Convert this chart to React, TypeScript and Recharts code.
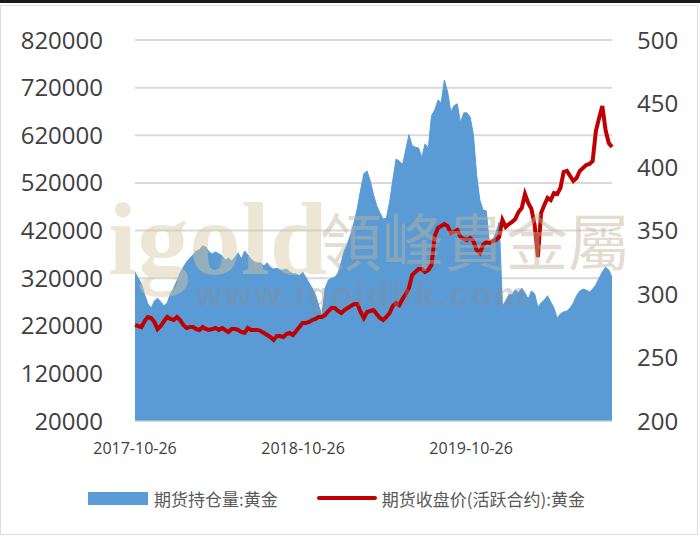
import React from 'react';
import { ComposedChart, Area, Line, XAxis, YAxis, CartesianGrid, Legend } from 'recharts';

// weekly samples from 2017-10-26 to 2020-08-27
const startDate = Date.UTC(2017, 9, 26);
const WEEK_MS = 7 * 24 * 3600 * 1000;

// 期货持仓量:黄金
const openInterest = [
  333000, 320000, 308000, 285000, 266000, 257000, 272000, 278000, 270000, 262000,
  268000, 287000, 299000, 314000, 331000, 343000, 354000, 362000, 369000, 377000,
  379000, 388000, 385000, 375000, 371000, 375000, 371000, 367000, 358000, 362000,
  356000, 364000, 373000, 360000, 377000, 369000, 360000, 354000, 352000, 352000,
  346000, 352000, 343000, 339000, 341000, 337000, 337000, 339000, 333000, 329000,
  329000, 325000, 333000, 322000, 310000, 299000, 285000, 262000, 240000, 299000,
  316000, 320000, 322000, 331000, 354000, 379000, 394000, 413000, 438000, 467000,
  505000, 539000, 545000, 524000, 495000, 472000, 457000, 444000, 446000, 480000,
  526000, 570000, 566000, 558000, 589000, 621000, 598000, 595000, 593000, 574000,
  602000, 593000, 661000, 673000, 694000, 688000, 736000, 711000, 669000, 682000,
  686000, 646000, 667000, 667000, 658000, 621000, 537000, 484000, 463000, 461000,
  390000, 400000, 415000, 438000, 262000, 272000, 285000, 285000, 295000, 289000,
  299000, 289000, 276000, 293000, 287000, 259000, 268000, 274000, 283000, 270000,
  257000, 236000, 245000, 249000, 251000, 257000, 268000, 283000, 293000, 297000,
  295000, 291000, 297000, 306000, 320000, 333000, 343000, 337000, 322000,
];

// 期货收盘价(活跃合约):黄金
const closePrice = [
  275.6, 274.8, 274.0, 278.7, 281.9, 281.1, 278.0, 272.4, 274.8, 278.7,
  281.9, 280.3, 279.5, 281.9, 279.5, 275.6, 273.2, 274.0, 274.0, 272.4,
  271.7, 274.0, 272.4, 271.7, 272.4, 273.2, 271.7, 273.2, 271.7, 270.1,
  272.4, 272.4, 271.7, 270.1, 269.3, 273.2, 271.7, 271.7, 271.7, 270.9,
  269.3, 267.7, 266.1, 263.8, 266.9, 266.9, 266.1, 268.5, 269.3, 267.7,
  270.9, 274.0, 277.2, 277.2, 278.0, 279.5, 280.3, 281.9, 281.9, 283.5,
  286.6, 289.0, 289.0, 286.6, 285.0, 287.4, 289.0, 290.6, 292.1, 292.1,
  285.8, 281.1, 285.8, 286.6, 287.4, 284.3, 281.1, 279.5, 281.9, 285.0,
  290.6, 292.9, 291.3, 296.1, 300.0, 304.7, 315.0, 317.3, 319.7, 319.7,
  317.3, 318.9, 322.8, 345.7, 352.0, 353.5, 355.1, 353.5, 348.0, 348.8,
  350.4, 344.9, 343.3, 342.5, 344.1, 341.7, 334.6, 332.3, 338.6, 340.9,
  340.2, 341.7, 342.5, 344.9, 358.3, 352.8, 355.1, 356.7, 359.1, 364.6,
  367.7, 378.7, 371.7, 366.9, 354.3, 329.1, 363.8, 370.1, 375.6, 374.0,
  379.5, 378.7, 383.5, 396.1, 396.9, 392.9, 389.0, 391.3, 396.9, 399.2,
  401.6, 402.4, 404.7, 428.3, 438.6, 448.0, 429.1, 418.9, 415.7,
];

const dateTicks = ['2017-10-26', '2018-10-26', '2019-10-26'];
const leftTicks = [20000, 120000, 220000, 320000, 420000, 520000, 620000, 720000, 820000];
const rightTicks = [200, 250, 300, 350, 400, 450, 500];

const seriesNames = ['期货持仓量:黄金', '期货收盘价(活跃合约):黄金'];

const data = openInterest.map((oi, i) => ({
  t: startDate + i * WEEK_MS,
  oi,
  price: closePrice[i],
}));

const tickTimes = dateTicks.map((d) => Date.parse(d));

const labelFont = '"Open Sans", "Liberation Sans", sans-serif';
const cjkFont = '"Noto Sans CJK SC", sans-serif';

const ChartLegend = () => (
  <div
    style={{
      height: 58,
      display: 'flex',
      alignItems: 'flex-start',
      fontFamily: cjkFont,
      fontSize: 17,
      color: '#595959',
    }}
  >
    <div style={{ height: 34, display: 'flex', alignItems: 'center', paddingLeft: 88 }}>
      <span style={{ width: 60, height: 13, background: '#5b9bd5', marginRight: 6 }} />
      <span>{seriesNames[0]}</span>
      <span
        style={{ width: 60, height: 4, background: '#c00000', borderRadius: 2, marginLeft: 39, marginRight: 5 }}
      />
      <span>{seriesNames[1]}</span>
    </div>
  </div>
);

export default function App() {
  return (
    <div style={{ position: 'relative', width: 700, height: 539, background: '#fff', overflow: 'hidden' }}>
      <style>{'body{margin:0}'}</style>
      <div style={{ position: 'absolute', left: 0, top: 0, width: 700, height: 3, background: '#1a1a1a' }} />
      <div
        style={{
          position: 'absolute',
          left: 0,
          top: 5,
          width: 696,
          height: 528,
          border: '1px solid #dedede',
        }}
      />
      <div style={{ position: 'absolute', left: 0, top: 0 }}>
        <ComposedChart width={700} height={539} data={data} margin={{ top: 40, right: 0, bottom: 0, left: 0 }}>
          <CartesianGrid yAxisId="left" vertical={false} stroke="#d9d9d9" strokeWidth={2} />
          <XAxis
            type="number"
            dataKey="t"
            domain={[data[0].t, data[data.length - 1].t]}
            ticks={tickTimes}
            interval={0}
            tickFormatter={(v: number) => dateTicks[tickTimes.indexOf(v)] ?? ''}
            axisLine={{ stroke: '#d9d9d9' }}
            tickLine={false}
            tickSize={0}
            tickMargin={22}
            height={60}
            tick={{ fill: '#404040', fontSize: 16, fontFamily: labelFont }}
          />
          <YAxis
            yAxisId="left"
            orientation="left"
            domain={[20000, 820000]}
            ticks={leftTicks}
            interval={0}
            width={135}
            axisLine={false}
            tickLine={false}
            tickSize={0}
            tickMargin={32}
            tick={{ fill: '#404040', fontSize: 24, fontFamily: labelFont }}
          />
          <YAxis
            yAxisId="right"
            orientation="right"
            domain={[200, 500]}
            ticks={rightTicks}
            interval={0}
            width={88}
            axisLine={false}
            tickLine={false}
            tickSize={0}
            tickMargin={25}
            tick={{ fill: '#404040', fontSize: 24, fontFamily: labelFont, textAnchor: 'start' }}
          />
          <Area
            yAxisId="left"
            type="linear"
            dataKey="oi"
            name={seriesNames[0]}
            fill="#5b9bd5"
            fillOpacity={1}
            stroke="#5b9bd5"
            strokeWidth={1}
            isAnimationActive={false}
          />
          <Line
            yAxisId="right"
            type="linear"
            dataKey="price"
            name={seriesNames[1]}
            stroke="#c00000"
            strokeWidth={4}
            dot={false}
            activeDot={false}
            isAnimationActive={false}
          />
          <Legend verticalAlign="bottom" align="left" height={58} content={() => <ChartLegend />} />
        </ComposedChart>
      </div>
      {/* watermark */}
      <div style={{ position: 'absolute', left: 0, top: 0, width: 700, height: 539, pointerEvents: 'none' }}>
        <div
          style={{
            position: 'absolute',
            left: 108,
            top: 189,
            fontFamily: '"Liberation Serif", serif',
            fontWeight: 'bold',
            fontSize: 104,
            lineHeight: '100px',
            color: 'rgba(215, 200, 160, 0.45)',
          }}
        >
          igold
        </div>
        <div
          style={{
            position: 'absolute',
            left: 320,
            top: 203,
            fontFamily: '"Noto Sans CJK TC", sans-serif',
            fontSize: 62,
            lineHeight: '72px',
            color: 'rgba(190, 180, 150, 0.45)',
          }}
        >
          領峰貴金屬
        </div>
        <div
          style={{
            position: 'absolute',
            left: 196,
            top: 276,
            fontFamily: '"Liberation Sans", sans-serif',
            fontWeight: 'bold',
            fontSize: 34,
            letterSpacing: 3,
            lineHeight: '36px',
            color: 'rgba(140, 140, 140, 0.35)',
          }}
        >
          www.igoldhk.com
        </div>
      </div>
    </div>
  );
}
